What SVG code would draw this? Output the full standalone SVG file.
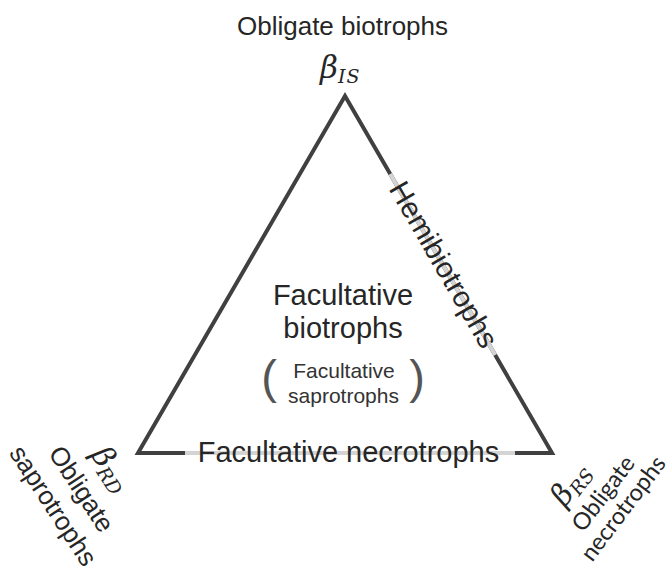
<svg xmlns="http://www.w3.org/2000/svg" width="672" height="571" viewBox="0 0 672 571">
<style>
.lbl{font-family:"Liberation Sans",Arial,sans-serif;fill:#262626}
.big{font-size:29px}
.mid{font-size:26px}
.small{font-size:21px;fill:#333}
.corner{font-family:Lato,"Liberation Sans",sans-serif;font-size:23.5px;fill:#262626}
.math{font-family:"DejaVu Serif","Liberation Serif",serif;font-style:italic;fill:#262626}
.paren{font-family:"Liberation Sans",Arial,sans-serif;font-size:47px;fill:#555}
.edge{stroke:#404040;stroke-width:4;fill:none;stroke-linejoin:miter;stroke-miterlimit:10}
.hl{stroke:#d4d4d4;stroke-width:4;fill:none;stroke-linecap:butt}
</style>
<rect width="672" height="571" fill="#fff"/>
<g id="connectors">
<path class="edge" d="M345,96 L552,453 L138,453 Z"/>
<line class="hl" x1="390.2" y1="174" x2="495.2" y2="355"/>
<line class="hl" x1="185" y1="453" x2="515" y2="453"/>
</g>
<g id="node-top">
<text class="lbl mid" x="342.5" y="35" text-anchor="middle">Obligate biotrophs</text>
<text class="math" x="320" y="78"><tspan font-size="31">β</tspan><tspan font-size="19" dy="5" letter-spacing="1">IS</tspan></text>
</g>
<g id="node-bottom-left">
<g transform="translate(110,470) rotate(57)">
<text class="math" x="0" y="8" text-anchor="middle"><tspan font-size="30">β</tspan><tspan font-size="19" dy="5">RD</tspan></text>
</g>
<text class="lbl mid" transform="translate(80,490) rotate(57)" x="0" y="7" text-anchor="middle">Obligate</text>
<text class="lbl mid" transform="translate(51.7,506.7) rotate(57)" x="0" y="7" text-anchor="middle">saprotrophs</text>
</g>
<g id="node-bottom-right">
<g transform="translate(571.7,485) rotate(-53)">
<text class="math" x="0" y="8" text-anchor="middle"><tspan font-size="30">β</tspan><tspan font-size="19" dy="5">RS</tspan></text>
</g>
<text class="corner" transform="translate(604,494) rotate(-53)" x="0" y="7" text-anchor="middle">Obligate</text>
<text class="corner" transform="translate(624,509) rotate(-53)" x="0" y="7" text-anchor="middle">necrotrophs</text>
</g>
<g id="edge-right-label">
<text class="lbl big" transform="translate(443,265) rotate(59.9)" x="0" y="9" text-anchor="middle">Hemibiotrophs</text>
</g>
<g id="edge-bottom-label">
<text class="lbl big" x="348.5" y="462" text-anchor="middle">Facultative necrotrophs</text>
</g>
<g id="node-center">
<text class="lbl big" x="343" y="305" text-anchor="middle">Facultative</text>
<text class="lbl big" x="343" y="338" text-anchor="middle">biotrophs</text>
<text class="paren" x="269" y="393" text-anchor="middle">(</text>
<text class="paren" x="417" y="393" text-anchor="middle">)</text>
<text class="lbl small" x="344" y="378" text-anchor="middle">Facultative</text>
<text class="lbl small" x="343.5" y="403" text-anchor="middle">saprotrophs</text>
</g>
</svg>
